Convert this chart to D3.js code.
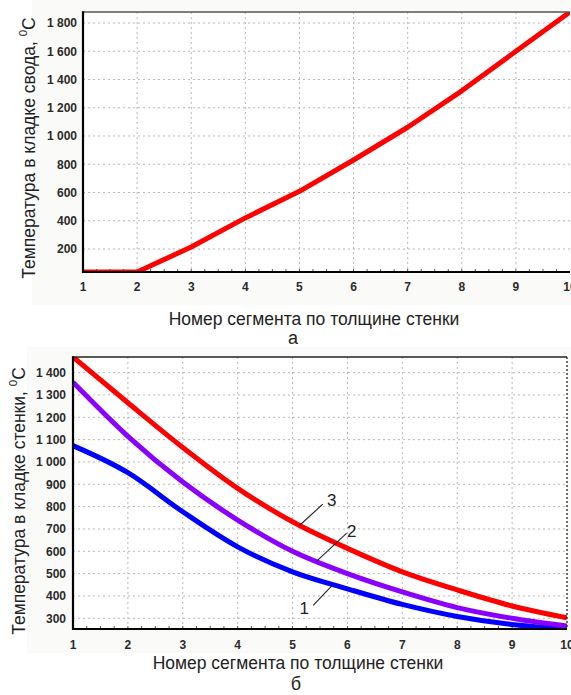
<!DOCTYPE html>
<html>
<head>
<meta charset="utf-8">
<script src="https://cdn.jsdelivr.net/npm/d3@7"></script>
<style>
  html, body { margin: 0; padding: 0; background: #ffffff; }
  svg { display: block; }
  text { font-family: "Liberation Sans", Arial, sans-serif; }
</style>
</head>
<body>
<svg id="fig" width="571" height="695"></svg>
<script>
// Segment numbers across the wall thickness
const segments = [1, 2, 3, 4, 5, 6, 7, 8, 9, 10];

// (а) temperature in the vault masonry, °C
const vaultTemp = [37, 37, 214, 420, 608, 830, 1062, 1320, 1600, 1878];

// (б) temperature in the wall masonry, °C — curves 1, 2, 3
const wallTemp1 = [1073, 952, 777, 620, 508, 432, 362, 308, 272, 252];
const wallTemp2 = [1357, 1115, 910, 740, 600, 500, 418, 348, 300, 265];
const wallTemp3 = [1470, 1265, 1065, 882, 732, 613, 508, 427, 355, 302];

// Tick labels
const xTicks = [1, 2, 3, 4, 5, 6, 7, 8, 9, 10];
const yTicksVault = [200, 400, 600, 800, 1000, 1200, 1400, 1600, 1800];
const yTicksWall = [300, 400, 500, 600, 700, 800, 900, 1000, 1100, 1200, 1300, 1400];

// Axis and caption texts
const xTitle = "Номер сегмента по толщине стенки";
const yTitleVault = "Температура в кладке свода, ";
const yTitleWall = "Температура в кладке стенки, ";
const captions = ["а", "б"];
const curveNames = ["1", "2", "3"];

const ruLocale = d3.formatLocale({ decimal: ",", thousands: " ", grouping: [3], currency: ["", ""] });
const fmt = ruLocale.format(",");

const svg = d3.select("#fig");

function drawPanel(cfg) {
  const g = svg.append("g");

  // light panel backdrop
  g.append("rect")
    .attr("x", cfg.bg[0]).attr("y", cfg.bg[1])
    .attr("width", cfg.bg[2]).attr("height", cfg.bg[3])
    .attr("fill", "#fafaf8");
  g.append("rect")
    .attr("x", cfg.left).attr("y", cfg.top)
    .attr("width", cfg.right - cfg.left).attr("height", cfg.bottom - cfg.top)
    .attr("fill", "#ffffff");

  const allValues = cfg.series.flatMap(s => s.values);
  const x = d3.scaleLinear().domain(d3.extent(segments)).range([cfg.left, cfg.right]);
  const y = d3.scaleLinear().domain(d3.extent(allValues)).range([cfg.bottom, cfg.top]);

  // dotted grid
  const grid = g.append("g").attr("stroke", "#b8b8b8").attr("stroke-width", 1)
    .attr("stroke-dasharray", "2,3");
  grid.selectAll("line.v").data(xTicks.slice(1, -1)).join("line")
    .attr("x1", d => x(d)).attr("x2", d => x(d))
    .attr("y1", cfg.top).attr("y2", cfg.bottom);
  grid.selectAll("line.h").data(cfg.yTicks).join("line")
    .attr("x1", cfg.left).attr("x2", cfg.right)
    .attr("y1", d => y(d)).attr("y2", d => y(d));

  // minor ticks along the x axis
  const minor = d3.range(segments[0], segments[segments.length - 1], 0.25);
  g.append("g").selectAll("line").data(minor).join("line")
    .attr("x1", d => x(d)).attr("x2", d => x(d))
    .attr("y1", cfg.bottom).attr("y2", cfg.bottom - 3)
    .attr("stroke", "#555").attr("stroke-width", 1);

  // series lines, clipped to the plotting area
  const clipId = "clip-" + cfg.id;
  svg.append("clipPath").attr("id", clipId).append("rect")
    .attr("x", cfg.left).attr("y", cfg.top)
    .attr("width", cfg.right - cfg.left).attr("height", cfg.bottom - cfg.top);
  const line = d3.line().x((d, i) => x(segments[i])).y(d => y(d)).curve(cfg.curve);
  g.append("g").attr("clip-path", `url(#${clipId})`)
    .selectAll("path").data(cfg.series).join("path")
    .attr("d", s => line(s.values))
    .attr("fill", "none")
    .attr("stroke", s => s.color)
    .attr("stroke-width", 5)
    .attr("stroke-linejoin", "round");

  // frame: top, right, left, bottom
  g.append("line").attr("x1", cfg.left).attr("x2", cfg.right)
    .attr("y1", cfg.top).attr("y2", cfg.top)
    .attr("stroke", cfg.topColor).attr("stroke-width", 1.6);
  if (cfg.rightDotted) {
    g.append("line").attr("x1", cfg.right).attr("x2", cfg.right)
      .attr("y1", cfg.top).attr("y2", cfg.bottom)
      .attr("stroke", "#222").attr("stroke-width", 1.3).attr("stroke-dasharray", "2,2");
  }
  g.append("line").attr("x1", cfg.left).attr("x2", cfg.left)
    .attr("y1", cfg.top - 0.8).attr("y2", cfg.bottom + 1)
    .attr("stroke", "#000").attr("stroke-width", 2.2);
  g.append("line").attr("x1", cfg.left - 1).attr("x2", cfg.right)
    .attr("y1", cfg.bottom).attr("y2", cfg.bottom)
    .attr("stroke", "#000").attr("stroke-width", 2.2);

  // tick labels
  g.append("g").selectAll("text").data(cfg.yTicks).join("text")
    .attr("x", cfg.yLabelX).attr("y", d => y(d)).attr("dy", "0.36em")
    .attr("text-anchor", "end").attr("font-size", 12).attr("font-weight", "bold")
    .attr("fill", "#2a2a2a").text(d => fmt(d));
  g.append("g").selectAll("text").data(xTicks).join("text")
    .attr("x", d => x(d)).attr("y", cfg.xLabelY).attr("dy", "0.36em")
    .attr("text-anchor", "middle").attr("font-size", 12).attr("font-weight", "bold")
    .attr("fill", "#2a2a2a").text(d => d);

  // axis titles
  const yt = g.append("text")
    .attr("transform", `translate(${cfg.yTitle[0]},${cfg.yTitle[1]}) rotate(-90)`)
    .attr("text-anchor", "middle").attr("font-size", 17.5).attr("fill", "#222");
  yt.append("tspan").text(cfg.yTitleText);
  yt.append("tspan").attr("font-size", 11.5).attr("dy", -8).text("0");
  yt.append("tspan").attr("dy", 8).text("C");

  g.append("text").attr("x", cfg.xTitle[0]).attr("y", cfg.xTitle[1])
    .attr("text-anchor", "middle").attr("font-size", 17.5).attr("fill", "#222")
    .text(xTitle);

  g.append("text").attr("x", cfg.caption[0]).attr("y", cfg.caption[1])
    .attr("text-anchor", "middle").attr("font-size", 18)
    .attr("font-family", "'Liberation Serif', 'Times New Roman', serif")
    .attr("fill", "#222").text(cfg.captionText);

  // curve number callouts
  if (cfg.callouts) {
    const ann = g.append("g");
    cfg.callouts.forEach(c => {
      const vals = cfg.series[c.series].values;
      const i = Math.floor(c.at) - 1, t = c.at - Math.floor(c.at);
      const v = vals[i] + (vals[i + 1] - vals[i]) * t;
      const px = x(c.at), py = y(v);
      ann.append("line")
        .attr("x1", px).attr("y1", py)
        .attr("x2", px + c.dx).attr("y2", py + c.dy)
        .attr("stroke", "#222").attr("stroke-width", 1.1);
      ann.append("text")
        .attr("x", px + c.dx + c.tx).attr("y", py + c.dy + c.ty)
        .attr("dy", "0.36em").attr("text-anchor", "middle")
        .attr("font-size", 17).attr("fill", "#222").text(curveNames[c.series]);
    });
  }
}

drawPanel({
  id: "vault",
  left: 83, right: 570, top: 12, bottom: 272,
  bg: [32, 0, 539, 305],
  series: [{ values: vaultTemp, color: "#ff0000" }],
  curve: d3.curveLinear,
  yTicks: yTicksVault,
  yLabelX: 77, xLabelY: 287,
  yTitle: [35, 148], yTitleText: yTitleVault,
  xTitle: [314, 325], caption: [293, 344], captionText: captions[0],
  topColor: "#555", rightDotted: false
});

drawPanel({
  id: "wall",
  left: 73, right: 567, top: 357, bottom: 629,
  bg: [27, 347, 544, 306],
  series: [
    { values: wallTemp1, color: "#0000ff" },
    { values: wallTemp2, color: "#8a00ff" },
    { values: wallTemp3, color: "#ff0000" }
  ],
  curve: d3.curveMonotoneX,
  yTicks: yTicksWall,
  yLabelX: 66, xLabelY: 645,
  yTitle: [25, 501], yTitleText: yTitleWall,
  xTitle: [298, 669], caption: [296, 690], captionText: captions[1],
  topColor: "#222", rightDotted: true,
  callouts: [
    { series: 2, at: 5.13, dx: 23, dy: -21, tx: 9, ty: -4 },
    { series: 1, at: 5.44, dx: 30, dy: -28, tx: 5, ty: -2 },
    { series: 0, at: 5.74, dx: -20, dy: 21, tx: -9, ty: 2 }
  ]
});
</script>
</body>
</html>
